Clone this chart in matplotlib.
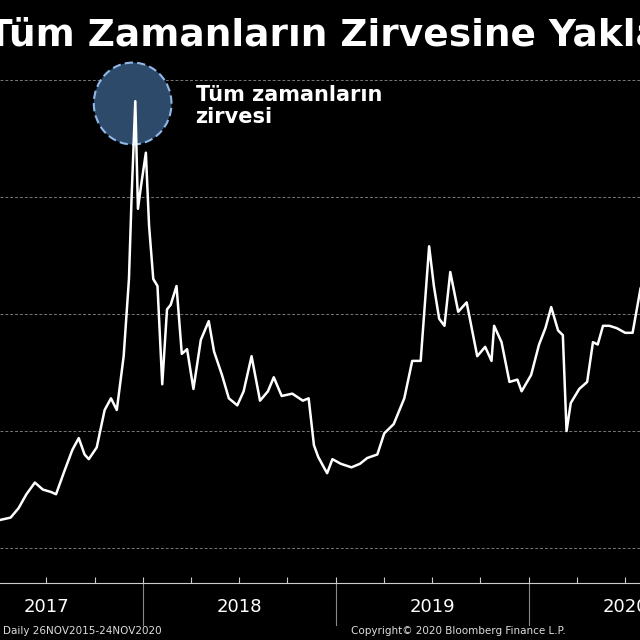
import matplotlib
matplotlib.use("Agg")
import matplotlib.pyplot as plt
import matplotlib.dates as mdates
from matplotlib.patches import Ellipse
import pandas as pd

# Bitcoin close (USD)
dates = ["2017-03-20", "2017-04-05", "2017-04-25", "2017-05-10", "2017-05-25", "2017-06-10",
         "2017-06-25", "2017-07-10", "2017-07-20", "2017-08-05", "2017-08-20", "2017-09-01",
         "2017-09-12", "2017-09-20", "2017-10-05", "2017-10-20", "2017-11-01", "2017-11-12",
         "2017-11-25", "2017-12-05", "2017-12-10", "2017-12-17", "2017-12-22", "2017-12-28",
         "2018-01-06", "2018-01-12", "2018-01-20", "2018-01-28", "2018-02-06", "2018-02-15",
         "2018-02-22", "2018-03-05", "2018-03-15", "2018-03-25", "2018-04-06", "2018-04-20",
         "2018-05-05", "2018-05-15", "2018-05-30", "2018-06-12", "2018-06-28", "2018-07-10",
         "2018-07-25", "2018-08-10", "2018-08-25", "2018-09-05", "2018-09-20", "2018-10-10",
         "2018-10-30", "2018-11-10", "2018-11-20", "2018-11-28", "2018-12-10", "2018-12-15",
         "2018-12-25", "2019-01-10", "2019-01-30", "2019-02-15", "2019-03-01", "2019-03-20",
         "2019-04-02", "2019-04-20", "2019-05-10", "2019-05-25", "2019-06-10", "2019-06-26",
         "2019-07-05", "2019-07-15", "2019-07-25", "2019-08-05", "2019-08-20", "2019-09-05",
         "2019-09-25", "2019-10-10", "2019-10-22", "2019-10-27", "2019-11-10", "2019-11-25",
         "2019-12-10", "2019-12-18", "2020-01-05", "2020-01-20", "2020-02-01", "2020-02-12",
         "2020-02-25", "2020-03-05", "2020-03-12", "2020-03-20", "2020-04-05", "2020-04-20",
         "2020-05-01", "2020-05-10", "2020-05-20", "2020-06-01", "2020-06-15", "2020-07-01",
         "2020-07-15", "2020-07-30", "2020-08-15"]
prices = [1050, 1200, 1300, 1700, 2300, 2800,
          2500, 2400, 2300, 3300, 4200, 4700,
          4000, 3800, 4300, 5900, 6400, 5900,
          8200, 11500, 15000, 19100, 14500, 15500,
          16900, 13800, 11500, 11200, 7000, 10200,
          10400, 11200, 8300, 8500, 6800, 8900,
          9700, 8400, 7400, 6400, 6100, 6700,
          8200, 6300, 6700, 7300, 6500, 6600,
          6300, 6400, 4400, 3900, 3400, 3200,
          3800, 3600, 3450, 3600, 3850, 4000,
          4900, 5300, 6400, 8000, 8000, 12900,
          11200, 9800, 9500, 11800, 10100, 10500,
          8200, 8600, 8000, 9500, 8800, 7100,
          7200, 6700, 7400, 8700, 9400, 10300,
          9300, 9100, 5000, 6200, 6800, 7100,
          8800, 8700, 9500, 9500, 9400, 9200,
          9200, 11100, 11800]

year_ticks = ["2017-01-01", "2018-01-01", "2019-01-01", "2020-01-01", "2021-01-01"]
year_labels = ["2017", "2018", "2019", "2020"]
grid_values = [0, 5000, 10000, 15000, 20000]

x = pd.to_datetime(dates)

fig = plt.figure(figsize=(6.4, 6.4), dpi=100, facecolor="black")
ax = fig.add_axes([0, 0.089, 1, 0.817], facecolor="black")
ax.plot(x, prices, color="white", lw=1.8, zorder=3)

ax.set_xlim(pd.Timestamp("2017-04-05"), pd.Timestamp("2020-07-29"))
ax.set_ylim(-1496, 20855)
for g in grid_values:
    ax.axhline(g, color="#777777", lw=0.7, ls=(0, (3, 2)), zorder=1)
for s in ["top", "right", "left"]:
    ax.spines[s].set_visible(False)
ax.spines["bottom"].set_color("#cccccc")
ax.set_yticks([])
ax.xaxis.set_major_locator(mdates.MonthLocator(bymonth=[1, 4, 7, 10]))
ax.tick_params(axis="x", direction="in", length=4, color="#cccccc", labelbottom=False)

# year separators and labels
ytk = pd.to_datetime(year_ticks)
for t in ytk[1:4]:
    ax.axvline(t, ymin=-0.08, ymax=0, color="#888888", lw=0.8, clip_on=False)
for i, lab in enumerate(year_labels):
    mid = ytk[i] + (ytk[i + 1] - ytk[i]) / 2
    ax.text(mid, -0.045, lab, transform=ax.get_xaxis_transform(), color="white",
            fontsize=13, ha="center", va="center")

# highlight circle around the peak
peak = pd.Timestamp("2017-12-12")
px = mdates.date2num(peak)
ax.add_patch(Ellipse((px, 19000), 147, 3500, facecolor="#2e4a6b", edgecolor="#8fb8e8",
                     lw=1.5, ls=(0, (4, 2)), zorder=2))
ax.text(pd.Timestamp("2018-04-10"), 18900, "Tüm zamanların\nzirvesi", color="white",
        fontsize=15, fontweight="bold", va="center", linespacing=1.1)

fig.text(-0.02, 0.945, "Tüm Zamanların Zirvesine Yaklaşıyor", color="white",
         fontsize=27, fontweight="bold", va="center", ha="left")
fig.text(-0.03, 0.945, "Bitcoin", color="white",
         fontsize=27, fontweight="bold", va="center", ha="right")
fig.text(0.005, 0.01, "Daily 26NOV2015-24NOV2020", color="#dddddd", fontsize=7.5)
fig.text(0.548, 0.01, "Copyright© 2020 Bloomberg Finance L.P.", color="#dddddd", fontsize=7.5)

fig.savefig("out.png", dpi=100, facecolor="black")
